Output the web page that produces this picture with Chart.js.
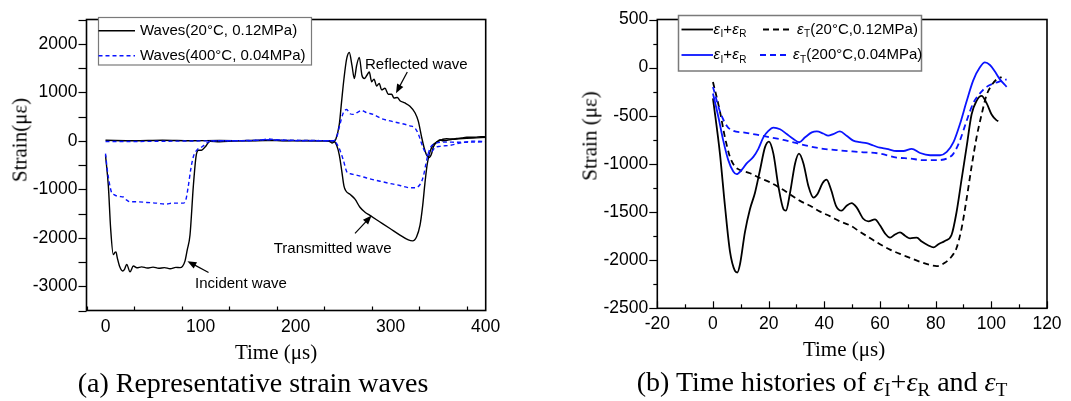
<!DOCTYPE html>
<html><head><meta charset="utf-8">
<script src="https://cdn.jsdelivr.net/npm/chart.js@4.4.1/dist/chart.umd.min.js"></script>
<style>
html,body{margin:0;padding:0;background:#fff;}
#wrap{position:relative;width:1071px;height:401px;overflow:hidden;background:#fff;}
canvas{position:absolute;top:0;}
.t{position:absolute;white-space:nowrap;font-family:"Liberation Serif","Times New Roman",serif;color:#000;line-height:1;transform:translate(-50%,-50%);}
.t sub{font-size:0.68em;vertical-align:-0.25em;line-height:0;}
</style></head><body>
<div id="wrap">
<canvas id="ca" width="540" height="340" style="left:0"></canvas>
<canvas id="cb" width="531" height="340" style="left:540px"></canvas>
<div class="t" style="left:19.5px;top:140px;font-size:21px;transform:translate(-50%,-50%) rotate(-90deg);">Strain(με)</div>
<div class="t" style="left:590px;top:136px;font-size:21px;transform:translate(-50%,-50%) rotate(-90deg);">Strain (με)</div>
<div class="t" style="left:276px;top:352px;font-size:21px;">Time (μs)</div>
<div class="t" style="left:844px;top:349px;font-size:21px;">Time (μs)</div>
<div class="t" style="left:253px;top:383px;font-size:28px;">(a) Representative strain waves</div>
<div class="t" style="left:822px;top:382px;font-size:28px;">(b) Time histories of <i>ε</i><sub>I</sub>+<i>ε</i><sub>R</sub> and <i>ε</i><sub>T</sub></div>
</div>
<script>
// ---------------- Chart (a) data ----------------
const xTicksA = [0, 100, 200, 300, 400];
const yTicksA = [-3000, -2000, -1000, 0, 1000, 2000];
const legendA = ['Waves(20°C, 0.12MPa)', 'Waves(400°C, 0.04MPa)'];

const tInc20 = [0,3,5.4,8.2,10,11,12.4,15,18,20,22.3,25.8,29.3,33,38,44,50,56,62,68,74,78.4,81,83.6,86,88.9,92.4,95.2,97.7,101,104.7,110,120,135,150,170,190,210,230,236,238.5,240.5,242.5,246,248.4,250.9,253.7,256.5,259.3,261.8,264.2,267,269.8,272.3,275,277.5,280,282.5,285.3,288,290.5,294,297.5,301,303.5,307,309.8,315,320.3,325.6,329,332.6,335,337.9,340.7,343.1,344.9,348.4,351.9,355,358.9,365,369.4,375,380,388.7,395,400];
const sInc20 = [-300,-936,-1810,-2347,-2300,-2293,-2414,-2600,-2687,-2650,-2549,-2704,-2583,-2620,-2600,-2625,-2605,-2630,-2615,-2640,-2610,-2616,-2590,-2482,-2250,-1944,-936,-331,-197,-195,-130,-10,-20,-5,5,10,0,5,0,-15,-45,-20,40,342,812,1283,1687,1821,1552,1283,1552,1720,1350,1283,1350,1418,1216,1270,1128,1182,1048,1081,960,960,880,893,826,779,712,577,409,74,-129,-297,-344,-263,-129,-28,6,30,40,35,45,60,73,73,85,80];

const tTrans20 = [0,30,60,90,120,150,180,210,235,239.7,243.2,246,248.4,250.9,253,257.2,262.5,267.7,273,278.2,288.8,299.3,309.8,318.6,323.1,327.3,330.9,333.7,336.1,338.6,341.4,344.2,348.4,352,355,358.9,365,372,380,390,400];
const sTrans20 = [10,0,10,0,5,0,10,0,0,-5,-95,-297,-599,-935,-1036,-1104,-1204,-1372,-1473,-1540,-1675,-1809,-1944,-2045,-2065,-1978,-1742,-1338,-868,-465,-230,-95,-28,20,0,6,30,40,50,60,70];

const tInc400 = [0,1.9,4,6.5,9,11.7,15,18.8,22,25.8,32.8,43.3,53.8,62.6,71.4,81.9,84.7,87.1,89.6,92.4,95.9,101.2,106.4,110,130,150,165,172,180,200,220,236,239.7,243.2,246.7,250.2,253.7,257.2,260.7,266,269.5,274.7,281.8,290.5,299.3,309.8,320.3,325.6,329.1,332.6,336.1,339.6,343.1,346.6,351.9,362.4,372.9,388.7,400];
const sInc400 = [-264,-601,-870,-1071,-1110,-1138,-1150,-1160,-1220,-1259,-1259,-1272,-1286,-1306,-1286,-1286,-1205,-937,-601,-331,-197,-130,-49,-9,0,0,20,35,20,10,5,0,0,73,342,577,644,557,544,597,624,577,544,456,409,362,308,261,140,-61,-229,-297,-229,-142,-115,-95,-48,-8,-20];

const tTrans400 = [0,30,60,90,120,150,170,190,220,240,243.2,246.7,250.2,253.7,257.2,262.5,271.2,278.2,288.8,299.3,309.8,320.3,325.6,330.9,334.4,337.2,339.6,342.1,346.6,355.4,370,388.7,400];
const sTrans400 = [-15,-15,-10,-5,0,5,20,5,0,0,-61,-196,-398,-633,-680,-700,-747,-787,-834,-881,-922,-969,-969,-902,-733,-465,-263,-129,-61,-28,-30,-28,-20];

// annotations (a): label, text centre (t, strain), arrow tail, arrow head
const notesA = [
  {label:'Incident wave', tx:142.5, ty:-2946, x1:108.4, y1:-2718, x2:86.2, y2:-2482},
  {label:'Reflected wave', tx:327, ty:1572, x1:317.5, y1:1417, x2:305.6, y2:981},
  {label:'Transmitted wave', tx:239, ty:-2230, x1:262.5, y1:-1911, x2:280, y2:-1540}
];

// ---------------- Chart (b) data ----------------
const xTicksB = [-20, 0, 20, 40, 60, 80, 100, 120];
const yTicksB = [-2500, -2000, -1500, -1000, -500, 0, 500];

const tSum20 = [0,2.5,4.3,6.1,7.9,8.75,9.7,11.5,13.3,15.1,16.9,18.7,20.1,21.7,23.5,25.3,26.2,27.7,29.5,30.9,32.5,34.3,36.1,37.5,39.4,40.8,42.4,44.2,46.2,48,49.8,51.6,54,55.8,58.2,60,61.8,63.6,65.4,67.2,69,70.8,73.2,75,77.4,79.2,81,83.3,85.7,87.5,89.3,91.1,92.9,94.7,96.5,98.3,100.1,101.9,102.5];
const sSum20 = [-320,-893,-1435,-1908,-2111,-2128,-2044,-1706,-1469,-1299,-1063,-826,-768,-893,-1232,-1469,-1486,-1299,-995,-893,-995,-1232,-1350,-1316,-1198,-1164,-1266,-1435,-1486,-1435,-1408,-1452,-1570,-1597,-1577,-1638,-1722,-1766,-1733,-1712,-1746,-1773,-1766,-1807,-1847,-1868,-1834,-1800,-1739,-1502,-1164,-826,-487,-345,-294,-369,-487,-548,-555];

const tT20 = [0,2.5,4.3,6.1,7.9,9.7,13.3,16.9,20.5,24.1,27.7,31.3,34.9,38.5,42,45.6,49.2,52.8,56.4,60,63.6,67.2,70.8,74.4,78,80.4,83.3,85.8,87.5,89.3,91.1,92.9,94.7,96.5,98.3,100.1,101.9,103.7];
const sT20 = [-150,-454,-724,-927,-1029,-1063,-1097,-1147,-1191,-1249,-1316,-1384,-1435,-1496,-1543,-1597,-1638,-1705,-1770,-1834,-1891,-1935,-1976,-2017,-2050,-2061,-2027,-1959,-1874,-1672,-1367,-1029,-724,-487,-284,-183,-122,-98];

const tSum200 = [0,2,3.7,5.5,7.3,8.5,10.3,12.1,14.5,16.3,18.1,19.9,21.7,24.1,26.5,28.9,31,33.1,35.5,37.3,39.6,41.4,43.2,45.6,48,50.4,52.8,55.2,57.6,60,62.4,66,68.4,71.4,74.4,78,81.6,84,86.4,88.7,91.1,93.5,95.9,97.7,99.5,101.3,103.1,105.5];
const sSum200 = [-268,-521,-758,-961,-1080,-1107,-1063,-995,-927,-843,-724,-657,-623,-640,-690,-741,-775,-724,-673,-663,-684,-707,-690,-663,-707,-758,-775,-785,-809,-832,-843,-866,-866,-843,-887,-910,-910,-876,-775,-589,-352,-132,3,54,27,-41,-122,-200];

const tT200 = [0,2.5,5,7.3,10.9,15.7,20.5,25.3,30.1,34.9,39.6,45.6,52.8,60,66,70.8,75.6,80.4,84,86.4,88.7,91.1,93.5,95.9,98.3,100.7,103.1,105.5];
const sT200 = [-200,-454,-606,-657,-673,-697,-724,-751,-785,-819,-843,-860,-876,-893,-934,-944,-961,-961,-944,-893,-758,-555,-369,-268,-200,-166,-142,-122];

// ---------------- helpers ----------------
const BLUE = '#0a14ff';
const SANS = '"Liberation Sans", Arial, sans-serif';
const pts = (xs, ys) => xs.map((x, i) => ({x, y: ys[i]}));

function line(data, color, width, dash) {
  return {data, borderColor: color, borderWidth: width, borderDash: dash || [],
          pointRadius: 0, cubicInterpolationMode: 'monotone', fill: false};
}

function arrow(ctx, x1, y1, x2, y2) {
  const a = Math.atan2(y2 - y1, x2 - x1), L = 9, W = 3.5;
  ctx.beginPath(); ctx.moveTo(x1, y1);
  ctx.lineTo(x2 - L * 0.7 * Math.cos(a), y2 - L * 0.7 * Math.sin(a)); ctx.stroke();
  ctx.beginPath(); ctx.moveTo(x2, y2);
  ctx.lineTo(x2 - L * Math.cos(a) + W * Math.sin(a), y2 - L * Math.sin(a) - W * Math.cos(a));
  ctx.lineTo(x2 - L * Math.cos(a) - W * Math.sin(a), y2 - L * Math.sin(a) + W * Math.cos(a));
  ctx.closePath(); ctx.fill();
}

// rich text: parts [{t, it, sub}]
function rich(ctx, x, y, parts) {
  ctx.textBaseline = 'middle'; ctx.textAlign = 'left';
  for (const p of parts) {
    ctx.font = (p.it ? 'italic ' : '') + (p.sub ? '10px ' : '15px ') + SANS;
    const yy = p.sub ? y + 5 : y;
    ctx.fillText(p.t, x, yy);
    x += ctx.measureText(p.t).width + (p.it ? 0.5 : 0);
  }
}

function frameTicks(cfg) {
  return {
    id: 'frameTicks',
    afterDatasetsDraw(chart) {
      const {ctx, chartArea: a, scales: {x, y}} = chart;
      ctx.save();
      ctx.strokeStyle = '#000'; ctx.lineWidth = 1.2;
      for (let v = cfg.xMin; v <= cfg.xMax + 1e-9; v += cfg.xMinor) {
        const px = Math.round(x.getPixelForValue(v)) + 0.5;
        const r = v / cfg.xMajor, major = Math.abs(r - Math.round(r)) < 1e-6;
        ctx.beginPath(); ctx.moveTo(px, a.bottom); ctx.lineTo(px, a.bottom - (major ? 7 : 4)); ctx.stroke();
      }
      for (let v = cfg.yMin; v <= cfg.yMax + 1e-9; v += cfg.yMinor) {
        const py = Math.round(y.getPixelForValue(v)) + 0.5;
        const r = v / cfg.yMajor, major = Math.abs(r - Math.round(r)) < 1e-6;
        ctx.beginPath(); ctx.moveTo(a.left, py); ctx.lineTo(a.left - (major ? 8 : 4), py); ctx.stroke();
      }
      ctx.lineWidth = 1.6;
      ctx.strokeRect(a.left, a.top, a.right - a.left, a.bottom - a.top);
      ctx.restore();
    }
  };
}

function makeChart(id, datasets, cfg, extraPlugin) {
  const ctx = document.getElementById(id);
  return new Chart(ctx, {
    type: 'line',
    data: {datasets},
    options: {
      responsive: false, animation: false, devicePixelRatio: 1,
      layout: {padding: {left: 0, top: cfg.padTop, right: cfg.padRight, bottom: 0}},
      plugins: {legend: {display: false}, tooltip: {enabled: false}},
      scales: {
        x: {type: 'linear', min: cfg.xMin, max: cfg.xMax,
            grid: {display: false, drawTicks: false}, border: {display: false},
            afterBuildTicks: s => { s.ticks = cfg.xTicks.map(v => ({value: v})); },
            afterFit: s => { s.height = cfg.xH; },
            ticks: {font: {family: SANS, size: 17.5}, color: '#000', padding: cfg.xPad,
                    maxRotation: 0, autoSkip: false, callback: v => String(v)}},
        y: {type: 'linear', min: cfg.yMin, max: cfg.yMax,
            grid: {display: false, drawTicks: false}, border: {display: false},
            afterBuildTicks: s => { s.ticks = cfg.yTicks.map(v => ({value: v})); },
            afterFit: s => { s.width = cfg.yW; },
            ticks: {font: {family: SANS, size: 17.5}, color: '#000', padding: cfg.yPad,
                    autoSkip: false, callback: v => String(v)}}
      }
    },
    plugins: [frameTicks(cfg), extraPlugin]
  });
}

// ---------------- Chart (a) ----------------
const annotA = {
  id: 'annotA',
  afterDraw(chart) {
    const {ctx, scales: {x, y}} = chart;
    ctx.save();
    ctx.fillStyle = '#000'; ctx.strokeStyle = '#000'; ctx.lineWidth = 1.2;
    ctx.font = '15px ' + SANS; ctx.textAlign = 'center'; ctx.textBaseline = 'middle';
    for (const n of notesA) {
      ctx.fillText(n.label, x.getPixelForValue(n.tx), y.getPixelForValue(n.ty));
      arrow(ctx, x.getPixelForValue(n.x1), y.getPixelForValue(n.y1), x.getPixelForValue(n.x2), y.getPixelForValue(n.y2));
    }
    // legend
    const L = 98.5, T = 17.5, W = 213, H = 47.5;
    ctx.fillStyle = '#fff'; ctx.fillRect(L, T, W, H);
    ctx.strokeStyle = '#7a7a7a'; ctx.lineWidth = 1.2; ctx.strokeRect(L, T, W, H);
    ctx.fillStyle = '#000'; ctx.textAlign = 'left';
    const rows = [{y: 30.7, c: '#000', d: []}, {y: 55.7, c: BLUE, d: [4, 3]}];
    rows.forEach((r, i) => {
      ctx.strokeStyle = r.c; ctx.lineWidth = 1.5; ctx.setLineDash(r.d);
      ctx.beginPath(); ctx.moveTo(L, r.y); ctx.lineTo(135, r.y); ctx.stroke();
      ctx.setLineDash([]);
      ctx.font = '15px ' + SANS; ctx.fillText(legendA[i], 140, r.y);
    });
    ctx.restore();
  }
};

makeChart('ca', [
  line(pts(tTrans400, sTrans400), BLUE, 1.4, [4, 3]),
  line(pts(tInc400, sInc400), BLUE, 1.4, [4, 3]),
  line(pts(tTrans20, sTrans20), '#000', 1.4),
  line(pts(tInc20, sInc20), '#000', 1.4)
], {xMin: -20, xMax: 400, xMinor: 50, xMajor: 100, yMin: -3500, yMax: 2500, yMinor: 500, yMajor: 500,
    xTicks: xTicksA, yTicks: yTicksA, padTop: 13, padRight: 540 - 485.7, xH: 340 - 310.5, yW: 86.5,
    xPad: 6, yPad: 9}, annotA);

// ---------------- Chart (b) ----------------
const legB = {
  id: 'legB',
  afterDraw(chart) {
    const {ctx} = chart;
    ctx.save();
    const L = 138.5, T = 15.5, W = 243, H = 55.5;
    ctx.fillStyle = '#fff'; ctx.fillRect(L, T, W, H);
    ctx.strokeStyle = '#7a7a7a'; ctx.lineWidth = 1.5; ctx.strokeRect(L, T, W, H);
    ctx.fillStyle = '#000';
    const sum = [{t: 'ε', it: true}, {t: 'I', sub: true}, {t: '+'}, {t: 'ε', it: true}, {t: 'R', sub: true}];
    const rows = [
      {y: 29.5, c: '#000', d0: 223, d1: 253, tx: 257, lab: '(20°C,0.12MPa)'},
      {y: 55, c: BLUE, d0: 220, d1: 250, tx: 253, lab: '(200°C,0.04MPa)'}
    ];
    for (const r of rows) {
      ctx.strokeStyle = r.c; ctx.lineWidth = 1.8;
      ctx.setLineDash([]);
      ctx.beginPath(); ctx.moveTo(141.5, r.y); ctx.lineTo(173, r.y); ctx.stroke();
      ctx.setLineDash([6, 4]);
      ctx.beginPath(); ctx.moveTo(r.d0, r.y); ctx.lineTo(r.d1, r.y); ctx.stroke();
      ctx.setLineDash([]);
      ctx.fillStyle = '#000';
      rich(ctx, 173.5, r.y, sum);
      rich(ctx, r.tx, r.y, [{t: 'ε', it: true}, {t: 'T', sub: true}, {t: r.lab}]);
    }
    ctx.restore();
  }
};

makeChart('cb', [
  line(pts(tT200, sT200), BLUE, 1.8, [6, 4]),
  line(pts(tSum200, sSum200), BLUE, 1.8),
  line(pts(tT20, sT20), '#000', 1.8, [6, 4]),
  line(pts(tSum20, sSum20), '#000', 1.8)
], {xMin: -20, xMax: 120, xMinor: 10, xMajor: 20, yMin: -2500, yMax: 500, yMinor: 250, yMajor: 500,
    xTicks: xTicksB, yTicks: yTicksB, padTop: 12.7, padRight: 531 - 507, xH: 340 - 308.3, yW: 117.3,
    xPad: 5, yPad: 9}, legB);
</script>
</body></html>
